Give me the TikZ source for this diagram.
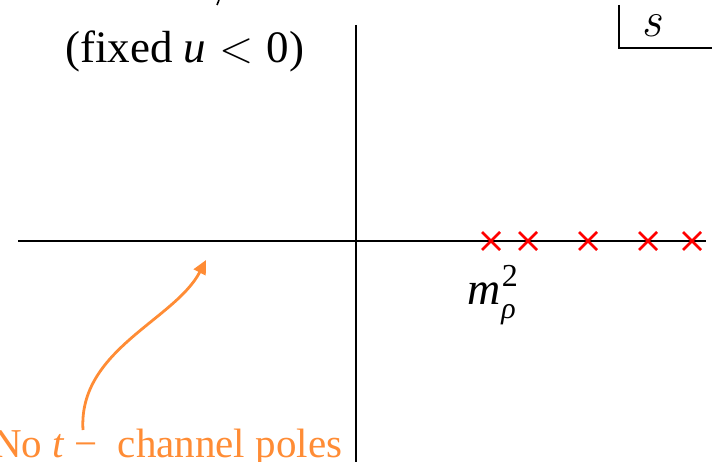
\documentclass[tikz,border=0pt]{standalone}
\usepackage{fontspec}
\setmainfont{Liberation Serif}
\newfontfamily\lmfont{Latin Modern Roman}
\usetikzlibrary{arrows.meta}
\definecolor{poleorange}{HTML}{FF8C35}
\begin{document}
\begin{tikzpicture}[x=1pt,y=-1pt,
  axis/.style={line width=1.6pt,black},
  pole/.style={red,line width=2.6pt},
  lbl/.style={inner sep=0pt,font=\fontsize{45}{48}\selectfont},
  note/.style={poleorange,line width=2.8pt,-{Triangle[length=14pt,width=13pt]}}]
\useasboundingbox (0,0) rectangle (712,462);
% axes
\coordinate (xl) at (18,241);
\coordinate (xr) at (706,241);
\coordinate (yt) at (356,25);
\coordinate (yb) at (356,470);
\draw[axis] (xl) -- (xr);
\draw[axis] (yt) -- (yb);
% s label box
\coordinate (sb1) at (619,5);
\coordinate (sb2) at (619,48);
\coordinate (sb3) at (712,48);
\draw[line width=1.4pt] (sb1) -- (sb2) -- (sb3);
\node[inner sep=0pt,font=\fontsize{50}{52}\selectfont\lmfont\itshape] (s) at (651,26) {s};
% top fragment
\coordinate (f1) at (219,0);
\coordinate (f2) at (217,5);
\draw[line width=1.6pt] (f1) -- (f2);
% text
\node[lbl,anchor=base west] (fixed) at (65,63) {(fixed \textit{u}\hspace{13pt}{\lmfont <}\hspace{13pt}0)};
% poles
\foreach \px [count=\i] in {491,528,588,648,692}{
  \coordinate (p\i) at (\px,241);
  \draw[pole] ([shift={(-9,-9)}]p\i) -- ([shift={(9,9)}]p\i);
  \draw[pole] ([shift={(-9,9)}]p\i) -- ([shift={(9,-9)}]p\i);
}
\node[inner sep=0pt,anchor=base west,font=\fontsize{46}{48}\selectfont] (mrho) at (467,305) {\textit{m}\kern1pt\raisebox{-14pt}{\fontsize{30}{30}\selectfont\textit{ρ}}\kern-14pt\raisebox{18pt}{\fontsize{32}{32}\selectfont 2}};
% annotation
\node[inner sep=0pt,font=\fontsize{41}{44}\selectfont,poleorange,anchor=base west] (nopoles) at (-8,457) {No \textit{t}\hspace{10pt}−\hspace{20pt}channel poles};
\coordinate (astart) at (83,430);
\coordinate (aend) at (206,260);
\draw[note] (astart) .. controls (78,350) and (175,320) .. (aend);
\end{tikzpicture}
\end{document}
